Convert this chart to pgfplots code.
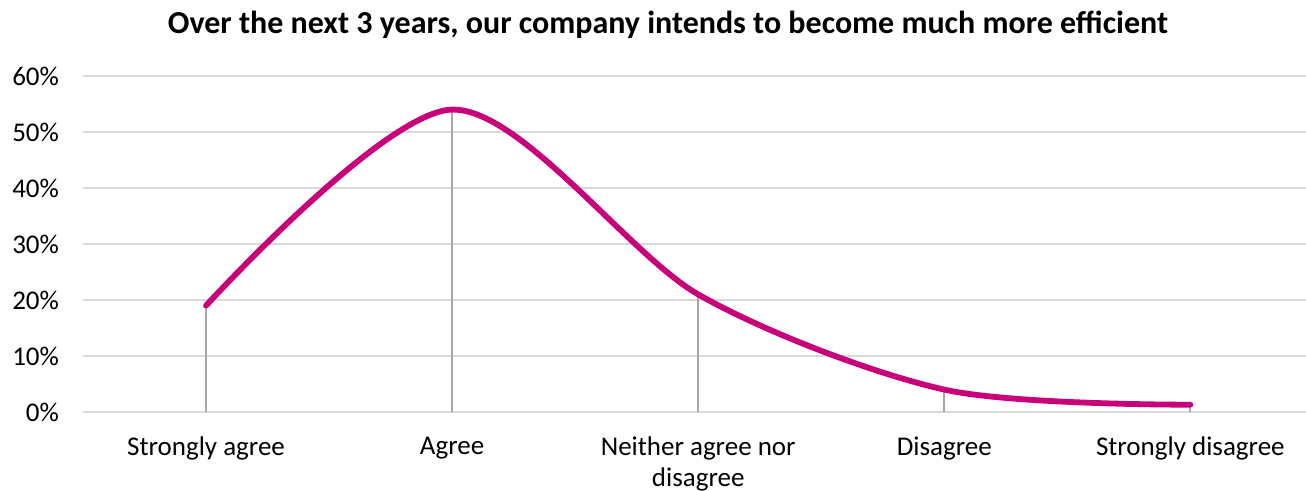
\documentclass[border=0pt]{standalone}
\usepackage{pgfplots}
\pgfplotsset{compat=1.18}
\usepackage{fontspec}
\setmainfont{Carlito}
\definecolor{curvepink}{RGB}{200,0,122}
\definecolor{gridgray}{RGB}{217,217,217}
\definecolor{dropgray}{RGB}{166,166,166}

\pgfplotstableread{
x y
0 19
1 54
2 21
3 4
4 1.3
}\efficiency

\begin{document}
\begin{tikzpicture}[x=1pt,y=1pt]
% page frame: 1 px of the layout = 0.5 pt
\useasboundingbox (0,0) rectangle (653,245.5);
\begin{axis}[
  at={(41.5pt,39.5pt)}, anchor=south west,
  scale only axis,
  width=611.5pt, height=168pt,
  xmin=-0.5, xmax=4.47,
  ymin=0, ymax=60,
  ytick={0,10,...,60},
  yticklabel={\pgfmathprintnumber{\tick}\%},
  xtick={0,1,2,3,4},
  xticklabels={Strongly agree, Agree, Neither agree nor\\disagree, Disagree, Strongly disagree},
  xticklabel style={align=center, font=\fontsize{13.5}{15.5}\selectfont, yshift=-9pt},
  yticklabel style={font=\fontsize{13.5}{15}\selectfont, xshift=-8.5pt},
  /pgf/number format/assume math mode=true,
  major tick length=0pt,
  axis line style={draw=none},
  ymajorgrids,
  grid style={gridgray, line width=0.75pt},
  clip=false,
]
\addplot[ycomb, dropgray, line width=1pt, mark=none] table[x=x,y=y]{\efficiency};
\addplot[curvepink, line width=2.9pt, smooth, tension=0.5, mark=none, line cap=round] table[x=x,y=y]{\efficiency};
\end{axis}
\node[font=\fontsize{16}{19}\selectfont\bfseries] at (334pt,233pt) {Over the next 3 years, our company intends to become much more efficient};
\end{tikzpicture}
\end{document}
